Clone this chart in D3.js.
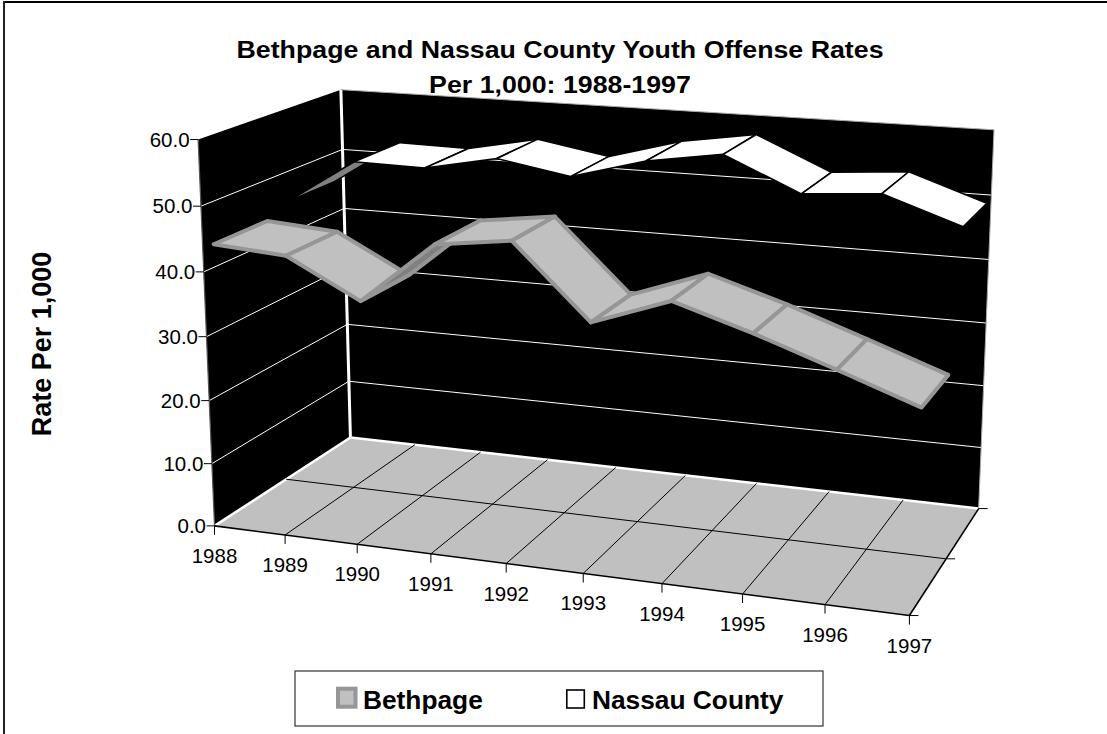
<!DOCTYPE html>
<html><head><meta charset="utf-8">
<style>html,body{margin:0;padding:0;background:#fff}svg{display:block}text{font-family:"Liberation Sans",Arial,sans-serif;fill:#000}</style>
<script src="https://cdn.jsdelivr.net/npm/d3@7"></script>
</head><body><svg id="c" width="1107" height="734"></svg>
<script>
const years = [1988,1989,1990,1991,1992,1993,1994,1995,1996,1997];
const bethpage = [43.5,42.7,36.8,46.3,47.8,36.8,41,37.4,33.3,29.1];
const nassau = [45.2,52.5,52.3,54.6,52.6,55.8,57.6,52.5,53.4,49.4];
const valueTicks = [0,10,20,30,40,50,60];
const titleLines = ["Bethpage and Nassau County Youth Offense Rates","Per 1,000: 1988-1997"];

// Projection of the 3D box, fitted to its visible corners: [x,depth,value] -> pixel
const boxCorners = [
 [[0,0,0],[215,526]],[[1,0,0],[909,616]],[[0,1,0],[350,437.5]],[[1,1,0],[979,508]],
 [[0,0,1],[198,139]],[[0,1,1],[341,90]],[[1,1,1],[994,130]]
];
function fit(){
  const A=[],b=[];
  boxCorners.forEach(([[x,z,y],[u,v]])=>{
    A.push([x,z,y,1,0,0,0,0,-u*x,-u*z,-u*y]);b.push(u);
    A.push([0,0,0,0,x,z,y,1,-v*x,-v*z,-v*y]);b.push(v);
  });
  const n=11,M=Array.from({length:n},(_,i)=>{const r=[];for(let j=0;j<n;j++)r.push(d3.sum(A,a=>a[i]*a[j])+(i==j?1e-9:0));r.push(d3.sum(A,(a,k)=>a[i]*b[k]));return r;});
  for(let i=0;i<n;i++){let p=i;for(let k=i+1;k<n;k++)if(Math.abs(M[k][i])>Math.abs(M[p][i]))p=k;[M[i],M[p]]=[M[p],M[i]];
    for(let k=0;k<n;k++)if(k!=i){const f=M[k][i]/M[i][i];for(let j=i;j<=n;j++)M[k][j]-=f*M[i][j];}}
  return M.map((r,i)=>r[n]/r[i]);
}
const P=fit();
const xS=d3.scaleLinear().domain([1988,1997]).range([0,1]);
const yS=d3.scaleLinear().domain([0,60]).range([0,1]);
function proj(year,z,val){const x=xS(year),y=yS(val),w=P[8]*x+P[9]*z+P[10]*y+1;
  return [(P[0]*x+P[1]*z+P[2]*y+P[3])/w,(P[4]*x+P[5]*z+P[6]*y+P[7])/w];}

const svg=d3.select("#c");
const poly=pts=>pts.map(p=>p.join(",")).join(" ");
const line=(a,b,c,w)=>svg.append("line").attr("x1",a[0]).attr("y1",a[1]).attr("x2",b[0]).attr("y2",b[1]).attr("stroke",c).attr("stroke-width",w);
// outer frame: only top and left edges are inside the picture
line([3.5,2],[1107,2],"#000",2);
line([4,1],[4,734],"#222",2);

titleLines.forEach((t,i)=>svg.append("text").attr("transform",`translate(560,${57.5+i*35}) scale(1.115,1)`).attr("text-anchor","middle").attr("font-size",24).attr("font-weight","bold").text(t));
svg.append("text").attr("transform","translate(50.5,344) rotate(-90)").attr("text-anchor","middle").attr("font-size",27).attr("font-weight","bold").text("Rate Per 1,000");

const Y0=years[0],Y1=years[9];
// walls
svg.append("polygon").attr("points",poly([proj(Y0,0,0),proj(Y0,1,0),proj(Y0,1,60),proj(Y0,0,60)])).attr("fill","#000");
svg.append("polygon").attr("points",poly([proj(Y0,1,0),proj(Y1,1,0),proj(Y1,1,60),proj(Y0,1,60)])).attr("fill","#000");
// floor
svg.append("polygon").attr("points",poly([proj(Y0,0,0),proj(Y1,0,0),proj(Y1,1,0),proj(Y0,1,0)])).attr("fill","#c0c0c0");
// wall gridlines
valueTicks.slice(1,-1).forEach(v=>{
  line(proj(Y0,0,v),proj(Y0,1,v),"#fff",1);
  line(proj(Y0,1,v),proj(Y1,1,v),"#fff",1);
});
line(proj(Y0,1,0),proj(Y0,1,60),"#fff",3);
line(proj(Y0,0,0),proj(Y0,1,0),"#fff",2.5);
line(proj(Y0,1,0),proj(Y1,1,0),"#fff",2.5);
line(proj(Y0,1,60),proj(Y1,1,60),"#aaa",1);
line(proj(Y1,1,0),proj(Y1,1,60),"#aaa",1);
// floor grid
years.slice(1,-1).forEach(y=>line(proj(y,0,0),proj(y,1,0),"#000",1));
line(proj(Y0,.5,0),proj(Y1,.5,0),"#000",1);
// axes
line(proj(Y0,0,0),proj(Y0,0,60),"#555",1.2);
line(proj(Y0,0,0),proj(Y1,0,0),"#000",1.6);
line(proj(Y1,0,0),proj(Y1,1,0),"#000",1.6);
valueTicks.forEach(v=>{const p=proj(Y0,0,v);
  line([p[0]-8,p[1]],p,"#000",1);
  svg.append("text").attr("x",p[0]-8.5).attr("y",p[1]+7.3).attr("text-anchor","end").attr("font-size",20.5).text(v.toFixed(1));
});
years.forEach(y=>{const p=proj(y,0,0);
  line(p,[p[0],p[1]+9],"#000",1);
  svg.append("text").attr("x",p[0]).attr("y",p[1]+37).attr("text-anchor","middle").attr("font-size",20.5).text(y);
});
[0,.5,1].forEach(z=>{const p=proj(Y1,z,0);line(p,[p[0]+9,p[1]],"#000",1);});
// ribbons: back series first
function ribbon(vals,z0,z1,fill,edge,w){
  vals.slice(0,-1).forEach((v,i)=>{
    const a=proj(years[i],z0,v),b=proj(years[i+1],z0,vals[i+1]),c=proj(years[i+1],z1,vals[i+1]),d=proj(years[i],z1,v);
    const cross=(b[0]-a[0])*(d[1]-a[1])-(b[1]-a[1])*(d[0]-a[0]);
    svg.append("polygon").attr("points",poly([a,b,c,d])).attr("fill",cross>0?"#808080":fill).attr("stroke",edge).attr("stroke-width",w).attr("stroke-linejoin","round");
  });
}
ribbon(nassau,.57,.93,"#fff","#000",1.6);
ribbon(bethpage,.07,.43,"#c0c0c0","#969696",4);
// legend
svg.append("rect").attr("x",295).attr("y",671).attr("width",528).attr("height",55).attr("fill","#fff").attr("stroke","#333").attr("stroke-width",1.2);
svg.append("rect").attr("x",338).attr("y",688.7).attr("width",17.5).attr("height",18).attr("fill","#c0c0c0").attr("stroke","#969696").attr("stroke-width",4);
svg.append("rect").attr("x",566.8).attr("y",690).attr("width",17.5).attr("height",18).attr("fill","#fff").attr("stroke","#000").attr("stroke-width",1.6);
svg.append("text").attr("x",363).attr("y",708.5).attr("font-size",26.3).attr("font-weight","bold").text("Bethpage");
svg.append("text").attr("x",592).attr("y",708.5).attr("font-size",26.3).attr("font-weight","bold").text("Nassau County");
</script></body></html>
